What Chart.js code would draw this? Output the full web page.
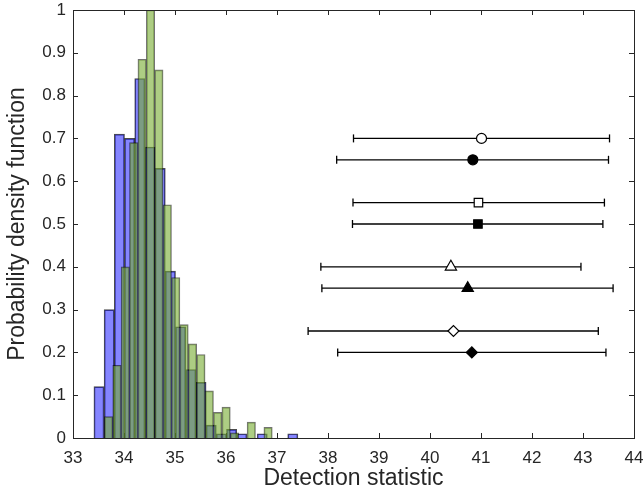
<!DOCTYPE html>
<html>
<head>
<meta charset="utf-8">
<script src="https://cdn.jsdelivr.net/npm/chart.js@4"></script>
<style>
  html, body { margin: 0; padding: 0; background: #fff; }
  #wrap { width: 644px; height: 494px; }
</style>
</head>
<body>
<div id="wrap"><canvas id="chart"></canvas></div>
<script>
// histogram 1 (blue), bin centres and heights
const blueBins = [33.51, 33.71, 33.91, 34.11, 34.31, 34.51, 34.71, 34.91, 35.11, 35.31,
  35.51, 35.71, 35.91, 36.11, 36.31, 36.51, 36.71, 36.91, 37.11, 37.31];
const blueVals = [0.12, 0.30, 0.71, 0.70, 0.84, 0.68, 0.63, 0.39, 0.26, 0.16,
  0.13, 0.03, 0.01, 0.02, 0.01, 0, 0.01, 0, 0, 0.01];

// histogram 2 (green)
const greenBins = [33.696, 33.861, 34.025, 34.190, 34.355, 34.520, 34.684, 34.849, 35.014, 35.178,
  35.343, 35.508, 35.672, 35.837, 36.002, 36.167, 36.331, 36.496, 36.661, 36.825];
const greenVals = [0.05, 0.17, 0.40, 0.69, 0.885, 1.0, 0.86, 0.545, 0.375, 0.265,
  0.22, 0.195, 0.11, 0.06, 0.072, 0.012, 0, 0.037, 0, 0.025];

// error bars with markers
const markerY = [0.70, 0.65, 0.55, 0.50, 0.40, 0.35, 0.25, 0.20];
const markerX = [41.01, 40.84, 40.95, 40.94, 40.41, 40.74, 40.46, 40.82];
const lowX = [38.50, 38.17, 38.49, 38.48, 37.86, 37.88, 37.61, 38.19];
const highX = [43.52, 43.50, 43.42, 43.39, 42.96, 43.59, 43.30, 43.45];
const markerStyle = ['circle', 'circle', 'rect', 'rect', 'triangle', 'triangle', 'rectRot', 'rectRot'];
const markerFilled = [false, true, false, true, false, true, false, true];

const xTicks = [33, 34, 35, 36, 37, 38, 39, 40, 41, 42, 43, 44];

const ink = '#262626';
const fontFamily = '"Liberation Sans", Arial, Helvetica, sans-serif';

const markerRadius = { circle: 5, rect: 6, triangle: 6.5, rectRot: 5.5 };

const datasets = [];
markerY.forEach((y, i) => {
  datasets.push({
    type: 'line',
    xAxisID: 'x',
    data: [{ x: markerX[i], y: y }],
    showLine: false,
    pointStyle: markerStyle[i],
    pointRadius: markerRadius[markerStyle[i]],
    pointBackgroundColor: markerFilled[i] ? '#000' : '#fff',
    pointBorderColor: '#000',
    pointBorderWidth: 1.2,
    order: 0,
  });
  datasets.push({
    type: 'line',
    xAxisID: 'x',
    data: [{ x: lowX[i], y: y }, { x: highX[i], y: y }],
    borderColor: '#000',
    borderWidth: 1.3,
    pointStyle: 'line',
    pointRotation: 90,
    pointRadius: 4,
    pointBorderColor: '#000',
    pointBorderWidth: 1.3,
    order: 1,
  });
});

datasets.push({
  type: 'bar',
  xAxisID: 'x2',
  data: greenBins.map((x, i) => ({ x: x, y: greenVals[i] })),
  backgroundColor: 'rgba(119,172,48,0.6)',
  borderColor: 'rgba(0,0,0,0.55)',
  borderWidth: 1,
  barPercentage: 1,
  categoryPercentage: 1,
  grouped: false,
  order: 2,
});
datasets.push({
  type: 'bar',
  xAxisID: 'x3',
  data: blueBins.map((x, i) => ({ x: x, y: blueVals[i] })),
  backgroundColor: 'rgba(0,0,255,0.48)',
  borderColor: 'rgba(0,0,0,0.7)',
  borderWidth: 1,
  barPercentage: 1,
  categoryPercentage: 1,
  grouped: false,
  order: 3,
});

// MATLAB style box with inward ticks
const boxPlugin = {
  id: 'box',
  beforeDatasetsDraw(chart) {
    const { ctx, chartArea: a, scales } = chart;
    ctx.save();
    ctx.strokeStyle = ink;
    ctx.lineWidth = 1;
    ctx.beginPath();
    scales.x.ticks.forEach((t) => {
      const px = Math.round(scales.x.getPixelForValue(t.value)) + 0.5;
      ctx.moveTo(px, a.bottom); ctx.lineTo(px, a.bottom - 5);
      ctx.moveTo(px, a.top); ctx.lineTo(px, a.top + 5);
    });
    scales.y.ticks.forEach((t) => {
      const py = Math.round(scales.y.getPixelForValue(t.value)) + 0.5;
      ctx.moveTo(a.left, py); ctx.lineTo(a.left + 5, py);
      ctx.moveTo(a.right, py); ctx.lineTo(a.right - 5, py);
    });
    ctx.stroke();
    ctx.restore();
  },
  afterDatasetsDraw(chart) {
    const { ctx, chartArea: a } = chart;
    ctx.save();
    ctx.strokeStyle = ink;
    ctx.lineWidth = 1;
    ctx.strokeRect(Math.round(a.left) + 0.5, Math.round(a.top) + 0.5,
      Math.round(a.right - a.left), Math.round(a.bottom - a.top));
    ctx.restore();
  },
};

const hiddenX = {
  type: 'linear', min: 33, max: 44, offset: false, display: false,
};

new Chart(document.getElementById('chart'), {
  type: 'bar',
  data: { datasets },
  options: {
    responsive: true,
    maintainAspectRatio: false,
    animation: false,
    layout: { padding: { top: 10, right: 10, left: 0, bottom: 0 } },
    plugins: { legend: { display: false }, tooltip: { enabled: false } },
    scales: {
      x: {
        type: 'linear', min: 33, max: 44, offset: false,
        afterBuildTicks: (s) => { s.ticks = xTicks.map((v) => ({ value: v })); },
        afterFit: (s) => { s.height = 56; s.paddingLeft = 0; s.paddingRight = 0; },
        grid: { display: false, drawTicks: false }, border: { display: false },
        ticks: { color: ink, padding: 10, font: { family: fontFamily, size: 17 } },
        title: {
          display: true, text: 'Detection statistic', color: ink,
          font: { family: fontFamily, size: 23 }, padding: { top: 0, bottom: 2 },
        },
      },
      x2: hiddenX,
      x3: hiddenX,
      y: {
        min: 0, max: 1,
        afterFit: (s) => { s.width = 73; s.paddingTop = 0; s.paddingBottom = 0; },
        grid: { display: false, drawTicks: false }, border: { display: false },
        ticks: {
          stepSize: 0.1, color: ink, padding: 7, font: { family: fontFamily, size: 17 },
          callback: (v) => String(Math.round(v * 10) / 10),
        },
        title: {
          display: true, text: 'Probability density function', color: ink,
          font: { family: fontFamily, size: 23 }, padding: { top: 4, bottom: 0 },
        },
      },
    },
  },
  plugins: [boxPlugin],
});
</script>
</body>
</html>
